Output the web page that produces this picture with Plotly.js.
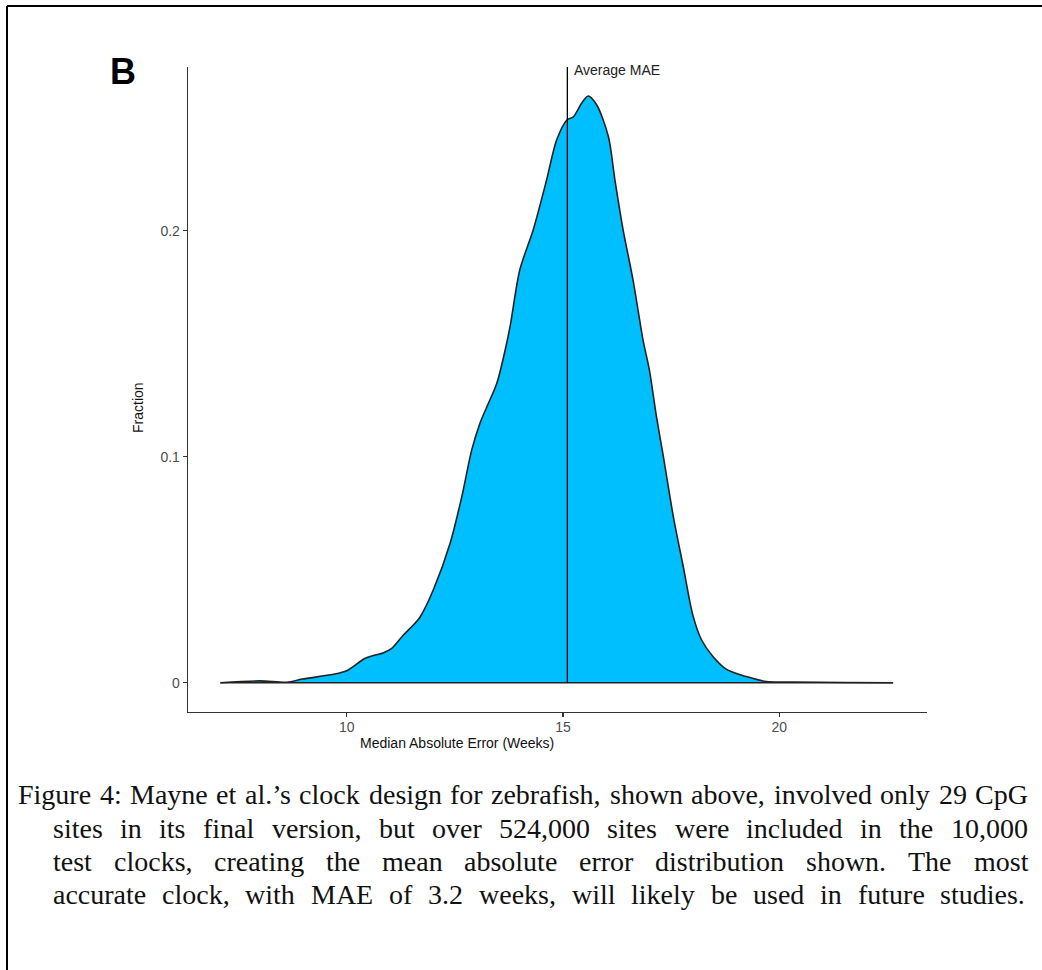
<!DOCTYPE html>
<html><head><meta charset="utf-8">
<script src="https://cdn.plot.ly/plotly-3.0.1.min.js"></script>
<style>html,body{margin:0;padding:0;background:#fff;overflow:hidden}#chart{width:1042px;height:970px}</style>
</head><body><div id="chart"></div>
<script>
// ---- data ----
const maeWeeks = [7.08, 8.0, 8.62, 8.97, 9.69, 10.0, 10.43, 10.85, 11.04, 11.31, 11.54, 11.70, 12.0, 12.39, 12.66, 12.89, 13.08, 13.24, 13.47, 13.66, 13.78, 14.0, 14.31, 14.62, 14.85, 15.09, 15.24, 15.43, 15.58, 15.78, 16.05, 16.2, 16.39, 16.62, 16.85, 17.0, 17.16, 17.32, 17.55, 17.78, 18.0, 18.2, 18.47, 18.78, 19.24, 19.7, 20.32, 21.5, 22.63];
const fraction = [0, 0.0008, 0.0002, 0.0016, 0.0037, 0.0053, 0.0108, 0.0133, 0.0152, 0.0211, 0.0255, 0.0292, 0.041, 0.0617, 0.0823, 0.103, 0.1148, 0.1221, 0.1325, 0.147, 0.158, 0.1826, 0.2003, 0.2224, 0.240, 0.249, 0.2504, 0.2564, 0.2596, 0.2556, 0.2416, 0.2224, 0.2003, 0.178, 0.1516, 0.138, 0.1177, 0.100, 0.0735, 0.0513, 0.030, 0.019, 0.0115, 0.0059, 0.0027, 0.0005, 0.0003, 0.0001, 0];
const averageMAE = 15.1;
const xTickVals = [10, 15, 20];
const yTickVals = [0, 0.1, 0.2];
const xRange = [6.331, 23.414];
const yRange = [-0.012965, 0.27243];
const panelLabel = "B";
const xTitle = "Median Absolute Error (Weeks)";
const yTitle = "Fraction";
const lineLabel = "Average MAE";
const captionLines = [
  "Figure 4: Mayne et al.\u2019s  clock design for zebrafish, shown above, involved only 29 CpG",
  "sites in its final version, but over 524,000 sites were included in the 10,000",
  "test clocks, creating the mean absolute error distribution shown. The most",
  "accurate clock, with MAE of 3.2 weeks, will likely be used in future studies."
];

// ---- layout geometry ----
const W = 1042, H = 970;
const M = {l: 188, r: 115, t: 67, b: 258};
const pw = W - M.l - M.r, ph = H - M.t - M.b;
const px2x = p => (p - M.l) / pw;
const py2y = p => (H - M.b - p) / ph;

const sans = "Liberation Sans, Arial, sans-serif";
const serifName = "Liberation Serif";

const traces = [
  {
    x: maeWeeks, y: fraction, type: 'scatter', mode: 'lines',
    line: {shape: 'spline', smoothing: 0.8, color: '#222222', width: 1.6},
    fill: 'tozeroy', fillcolor: '#00BFFF', hoverinfo: 'skip', showlegend: false
  },
  {
    x: [maeWeeks[0], maeWeeks[maeWeeks.length - 1]], y: [0, 0],
    type: 'scatter', mode: 'lines', line: {color: '#222222', width: 1.6},
    hoverinfo: 'skip', showlegend: false
  }
];

const annotations = [
  {text: '<b>' + panelLabel + '</b>', xref: 'paper', yref: 'paper', x: px2x(108), y: py2y(71),
   xanchor: 'left', yanchor: 'middle', showarrow: false, font: {family: sans, size: 36, color: '#000'}},
  {text: lineLabel, xref: 'paper', yref: 'paper', x: px2x(572), y: py2y(70),
   xanchor: 'left', yanchor: 'middle', showarrow: false, font: {family: sans, size: 14, color: '#222'}},
  {text: xTitle, xref: 'paper', yref: 'paper', x: px2x(457), y: py2y(743),
   xanchor: 'center', yanchor: 'middle', showarrow: false, font: {family: sans, size: 14, color: '#111'}},
  {text: yTitle, xref: 'paper', yref: 'paper', x: px2x(138), y: py2y(408), textangle: -90,
   xanchor: 'center', yanchor: 'middle', showarrow: false, font: {family: sans, size: 14, color: '#111'}}
];

// caption: font sized so the widest line fits with normal spaces, all lines justified
const ctx = document.createElement('canvas').getContext('2d');
const lineLeft = [18, 53, 53, 53];
const lineRight = [1028, 1028, 1028, 1025];
const lineY = [794, 828, 861, 894];
ctx.font = "24px '" + serifName + "'";
const fits = captionLines.map((ln, i) => 24 * (lineRight[i] - lineLeft[i]) / ctx.measureText(ln.replace(/\s+/g, ' ')).width);
const capSize = Math.min(28, Math.min.apply(null, fits) * 0.985);
ctx.font = capSize + "px '" + serifName + "'";
captionLines.forEach((ln, i) => {
  const words = ln.split(/\s+/);
  const widths = words.map(w => ctx.measureText(w).width);
  const total = widths.reduce((a, b) => a + b, 0);
  const gap = (lineRight[i] - lineLeft[i] - total) / (words.length - 1);
  let pos = lineLeft[i];
  words.forEach((w, j) => {
    annotations.push({text: w, xref: 'paper', yref: 'paper', x: px2x(pos), y: py2y(lineY[i]),
      xanchor: 'left', yanchor: 'middle', showarrow: false, borderpad: 0, borderwidth: 0,
      font: {family: serifName + ", serif", size: capSize, color: '#111'}});
    pos += widths[j] + gap;
  });
});

const shapes = [
  {type: 'line', xref: 'x', yref: 'y', x0: averageMAE, x1: averageMAE, y0: 0, y1: yRange[1],
   line: {color: '#000', width: 1.3}},
  // page border (top and left)
  {type: 'line', xref: 'paper', yref: 'paper', x0: px2x(7), x1: px2x(1045), y0: py2y(6), y1: py2y(6),
   line: {color: '#000', width: 2}},
  {type: 'line', xref: 'paper', yref: 'paper', x0: px2x(7), x1: px2x(7), y0: py2y(6), y1: py2y(975),
   line: {color: '#000', width: 2}}
];

const axisCommon = {
  showline: true, linecolor: '#333', linewidth: 1.3, showgrid: false, zeroline: false,
  ticks: 'outside', ticklen: 4, tickwidth: 1.2, tickcolor: '#333',
  tickfont: {family: sans, size: 14, color: '#4d4d4d'}, fixedrange: true
};

const layout = {
  width: W, height: H, margin: M,
  paper_bgcolor: '#fff', plot_bgcolor: '#fff',
  xaxis: Object.assign({}, axisCommon, {range: xRange, tickvals: xTickVals, ticktext: xTickVals.map(String), ticklabelstandoff: -2}),
  yaxis: Object.assign({}, axisCommon, {range: yRange, tickvals: yTickVals, ticktext: yTickVals.map(String)}),
  annotations: annotations, shapes: shapes, showlegend: false
};

Plotly.newPlot('chart', traces, layout, {displayModeBar: false, staticPlot: true});
</script></body></html>
